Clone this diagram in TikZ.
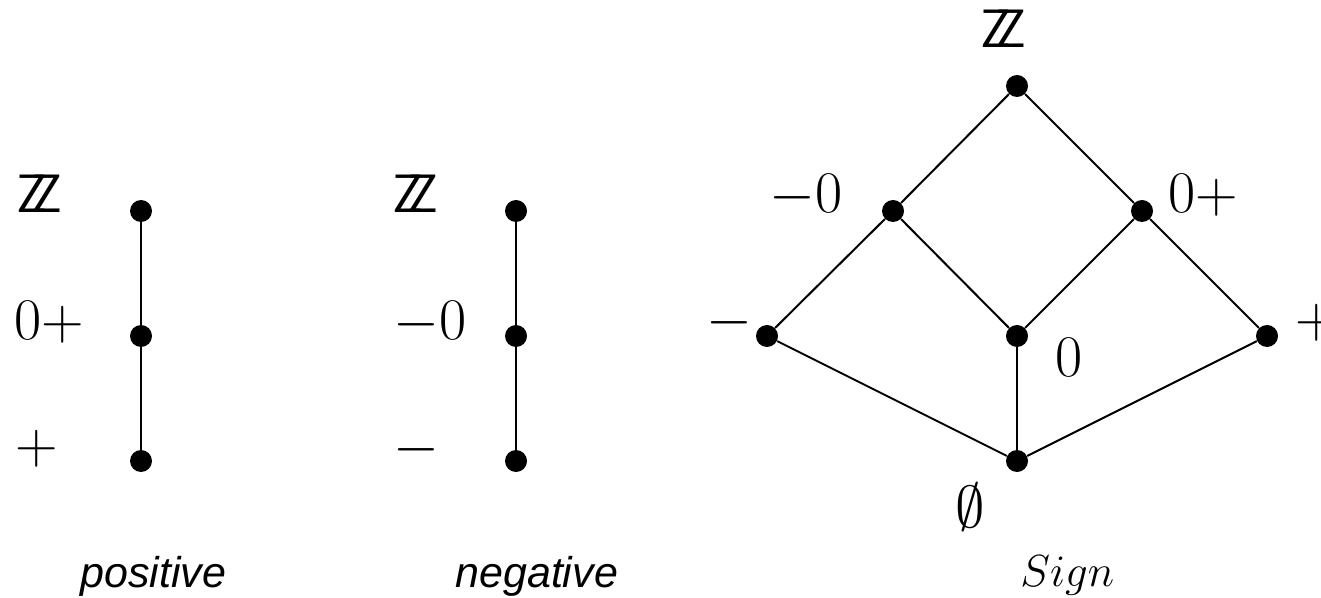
\RequirePackage{fix-cm}
\documentclass[tikz,border=0pt]{standalone}
\usepackage{amsmath, amssymb}
\usepackage{fontspec}
\newfontfamily\capfont{Liberation Sans}
\usetikzlibrary{positioning}

\newcommand{\Zint}{{\sffamily\fontsize{27}{30}\selectfont Z\kern-0.29emZ}}

\begin{document}
\begin{tikzpicture}[
  x=0.5pt, y=-0.5pt,
  dot/.style={circle, fill, inner sep=0pt, minimum size=11pt},
  lbl/.style={anchor=base west, inner sep=0pt, font=\fontsize{29.5}{35}\selectfont},
  lattcap/.style={anchor=base west, inner sep=0pt, font=\fontsize{21.5}{26}\selectfont},
  link/.style={line width=1pt}
]
\useasboundingbox (0,0) rectangle (1321,598);

% positive
\node[dot] (pz) at (141,211) {};
\node[dot] (pnn) at (141,336) {};
\node[dot] (pp) at (141,461) {};
\node[lbl] (pzl) at (16,213) {\Zint};
\node[lbl] (pnnl) at (14,340) {$0+$};
\node[lbl] (ppl) at (15,463) {$+$};
\draw[link] (pz) -- (pnn) -- (pp);
\node[lattcap] (poscap) at (80,587) {\capfont\itshape positive};

% negative
\node[dot] (nz) at (516,211) {};
\node[dot] (nnp) at (516,336) {};
\node[dot] (nn) at (516,461) {};
\node[lbl] (nzl) at (392,213) {\Zint};
\node[lbl] (nnpl) at (393,340) {$-0$};
\node[lbl] (nnl) at (393,464) {$-$};
\draw[link] (nz) -- (nnp) -- (nn);
\node[lattcap] (negcap) at (455,587) {\capfont\itshape negative};

% Sign
\node[dot] (top) at (1017,86) {};
\node[dot] (mz) at (893,211) {};
\node[dot] (zp) at (1142,211) {};
\node[dot] (neg) at (767,336) {};
\node[dot] (zero) at (1017,336) {};
\node[dot] (pos) at (1267,336) {};
\node[dot] (bot) at (1017,461) {};
\node[lbl] (topl) at (980,48) {\Zint};
\node[lbl] (mzl) at (769,213) {$-0$};
\node[lbl] (zpl) at (1168,213) {$0+$};
\node[lbl] (negl) at (706,338) {$-$};
\node[lbl] (zerol) at (1055,377) {$0$};
\node[lbl] (posl) at (1295,338) {$+$};
\node[lbl] (botl) at (955,527) {$\emptyset$};
\draw[link] (top) -- (mz) -- (neg) -- (bot);
\draw[link] (top) -- (zp) -- (pos) -- (bot);
\draw[link] (mz) -- (zero) -- (zp);
\draw[link] (zero) -- (bot);
\node[lattcap, font=\fontsize{22.5}{27}\selectfont] (signcap) at (1020,586) {$Sign$};
\end{tikzpicture}
\end{document}
